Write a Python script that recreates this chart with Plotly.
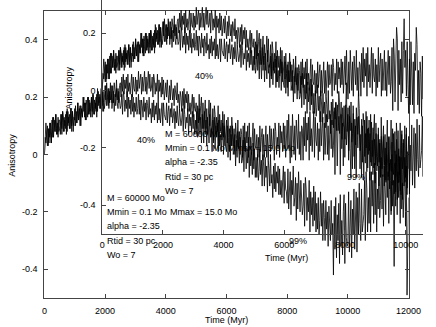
import plotly.graph_objects as go

# sampled every 25 Myr from 0 to 12000 Myr, one row = 500 Myr
T_STEP = 25

# upper curve after the split (~2000 Myr)
aniso_a = [
    0.00, 0.04, 0.11, 0.06, 0.03, 0.09, 0.04, 0.11, 0.07, 0.04, 0.12, 0.06, 0.13, 0.11, 0.08, 0.14, 0.07, 0.11, 0.06, 0.12,
    0.12, 0.07, 0.14, 0.09, 0.15, 0.08, 0.13, 0.10, 0.14, 0.07, 0.16, 0.10, 0.13, 0.09, 0.14, 0.16, 0.08, 0.15, 0.11, 0.10,
    0.16, 0.10, 0.15, 0.11, 0.18, 0.12, 0.15, 0.17, 0.10, 0.16, 0.13, 0.16, 0.20, 0.13, 0.18, 0.12, 0.15, 0.20, 0.14, 0.19,
    0.15, 0.16, 0.20, 0.13, 0.21, 0.19, 0.14, 0.18, 0.15, 0.21, 0.15, 0.22, 0.18, 0.21, 0.16, 0.23, 0.17, 0.22, 0.15, 0.20,
    0.24, 0.19, 0.25, 0.20, 0.17, 0.23, 0.18, 0.25, 0.21, 0.18, 0.24, 0.18, 0.25, 0.23, 0.20, 0.26, 0.19, 0.23, 0.18, 0.24,
    0.25, 0.20, 0.27, 0.22, 0.28, 0.21, 0.26, 0.23, 0.27, 0.20, 0.28, 0.22, 0.25, 0.21, 0.26, 0.28, 0.20, 0.27, 0.23, 0.22,
    0.27, 0.21, 0.26, 0.22, 0.29, 0.23, 0.26, 0.28, 0.21, 0.27, 0.22, 0.25, 0.29, 0.22, 0.27, 0.21, 0.24, 0.29, 0.23, 0.28,
    0.22, 0.23, 0.27, 0.20, 0.28, 0.26, 0.21, 0.25, 0.22, 0.28, 0.19, 0.26, 0.22, 0.25, 0.20, 0.27, 0.21, 0.26, 0.19, 0.24,
    0.25, 0.20, 0.26, 0.21, 0.18, 0.24, 0.19, 0.26, 0.22, 0.19, 0.23, 0.17, 0.24, 0.22, 0.19, 0.25, 0.18, 0.21, 0.16, 0.22,
    0.20, 0.15, 0.22, 0.17, 0.23, 0.16, 0.21, 0.18, 0.22, 0.15, 0.21, 0.15, 0.18, 0.14, 0.19, 0.21, 0.13, 0.20, 0.16, 0.15,
    0.18, 0.09, 0.17, 0.11, 0.21, 0.12, 0.17, 0.20, 0.09, 0.18, 0.09, 0.13, 0.19, 0.09, 0.16, 0.07, 0.12, 0.19, 0.10, 0.18,
    0.08, 0.10, 0.16, 0.05, 0.17, 0.14, 0.07, 0.13, 0.08, 0.17, 0.03, 0.14, 0.08, 0.12, 0.05, 0.15, 0.06, 0.14, 0.03, 0.11,
    0.12, 0.04, 0.13, 0.06, 0.01, 0.10, 0.03, 0.13, 0.07, 0.03, 0.09, 0.00, 0.11, 0.08, 0.03, 0.12, 0.02, 0.08, 0.00, 0.09,
    0.07, -0.01, 0.10, 0.02, 0.11, 0.01, 0.08, 0.04, 0.10, -0.01, 0.11, 0.02, 0.06, 0.00, 0.08, 0.11, -0.02, 0.09, 0.03, 0.02,
    0.07, -0.02, 0.06, -0.01, 0.10, 0.01, 0.06, 0.09, -0.02, 0.07, -0.01, 0.04, 0.10, -0.01, 0.07, -0.02, 0.03, 0.10, 0.01, 0.09,
    0.02, 0.03, 0.09, -0.02, 0.11, 0.08, 0.00, 0.06, 0.02, 0.11, -0.01, 0.10, 0.04, 0.08, 0.01, 0.11, 0.02, 0.10, -0.01, 0.07,
    0.12, 0.02, 0.14, 0.04, -0.03, 0.10, -0.01, 0.14, 0.06, 0.00, 0.10, -0.02, 0.12, 0.08, 0.02, 0.14, 0.00, 0.08, -0.02, 0.10,
    0.09, -0.02, 0.13, 0.03, 0.15, 0.01, 0.11, 0.05, 0.13, -0.02, 0.15, 0.03, 0.09, 0.01, 0.11, 0.15, -0.01, 0.13, 0.05, 0.03,
    0.11, -0.02, 0.09, 0.01, 0.15, 0.03, 0.09, 0.13, -0.02, 0.11, 0.00, 0.06, 0.14, 0.00, 0.10, -0.02, 0.04, 0.14, 0.02, 0.12,
    -0.01, 0.03, 0.15, -0.07, 0.18, 0.12, -0.04, 0.09, 0.22, 0.18, -0.07, 0.14, 0.02, 0.11, -0.04, 0.17, -0.01, 0.14, 0.25, 0.08,
    0.14, -0.02, 0.17, 0.02, -0.08, 0.11, -0.05, 0.17, 0.05, -0.05, 0.10, -0.08, 0.13, 0.07, 0.22, 0.16, -0.05, 0.07, -0.08, 0.10,
    0.06, -0.09, 0.12, -0.03, 0.15, -0.06, 0.09, 0.00, 0.12, -0.09, 0.14, -0.04, 0.05, -0.07, 0.08, 0.14, -0.10, 0.11, -0.01, -0.04,
    0.07, -0.11, 0.04, -0.08, 0.13, -0.05, 0.04, 0.10, -0.11, 0.07, -0.09, 0.00, 0.12, -0.09, 0.06, -0.12, -0.03, 0.12, -0.06, 0.09,
    -0.07, -0.04, 0.08, -0.13, 0.11, 0.05, -0.10, 0.02, -0.07, 0.11, -0.14, 0.07, -0.05, 0.04, -0.11, 0.10, -0.08, 0.07, -0.14, 0.01,
    -0.05,
]

# lower curve, drops hard around 9500 Myr
aniso_b = [
    0.00, 0.06, 0.04, 0.08, 0.10, 0.03, 0.09, 0.06, 0.11, 0.04, 0.10, 0.13, 0.06, 0.12, 0.08, 0.14, 0.09, 0.07, 0.13, 0.08,
    0.09, 0.10, 0.14, 0.07, 0.15, 0.13, 0.08, 0.12, 0.09, 0.15, 0.08, 0.15, 0.11, 0.14, 0.09, 0.16, 0.10, 0.15, 0.08, 0.13,
    0.12, 0.17, 0.11, 0.13, 0.18, 0.12, 0.16, 0.10, 0.17, 0.14, 0.13, 0.20, 0.15, 0.18, 0.12, 0.19, 0.17, 0.13, 0.20, 0.14,
    0.18, 0.13, 0.20, 0.15, 0.21, 0.14, 0.19, 0.16, 0.20, 0.13, 0.23, 0.17, 0.20, 0.16, 0.21, 0.23, 0.15, 0.22, 0.18, 0.16,
    0.18, 0.24, 0.17, 0.21, 0.23, 0.16, 0.22, 0.19, 0.24, 0.16, 0.19, 0.22, 0.15, 0.21, 0.17, 0.23, 0.18, 0.16, 0.22, 0.17,
    0.16, 0.17, 0.21, 0.14, 0.22, 0.20, 0.15, 0.19, 0.16, 0.22, 0.13, 0.20, 0.16, 0.19, 0.14, 0.21, 0.15, 0.20, 0.13, 0.18,
    0.15, 0.20, 0.14, 0.16, 0.21, 0.14, 0.19, 0.12, 0.19, 0.17, 0.13, 0.20, 0.15, 0.18, 0.12, 0.19, 0.17, 0.13, 0.20, 0.14,
    0.16, 0.11, 0.18, 0.13, 0.19, 0.12, 0.17, 0.14, 0.18, 0.11, 0.19, 0.12, 0.16, 0.11, 0.17, 0.18, 0.10, 0.18, 0.14, 0.13,
    0.12, 0.18, 0.11, 0.15, 0.17, 0.10, 0.16, 0.13, 0.18, 0.11, 0.13, 0.16, 0.09, 0.15, 0.11, 0.17, 0.12, 0.10, 0.16, 0.11,
    0.10, 0.12, 0.16, 0.08, 0.17, 0.14, 0.09, 0.13, 0.11, 0.16, 0.07, 0.14, 0.10, 0.13, 0.08, 0.15, 0.09, 0.14, 0.07, 0.12,
    0.07, 0.15, 0.06, 0.08, 0.16, 0.07, 0.13, 0.04, 0.14, 0.10, 0.04, 0.15, 0.07, 0.12, 0.03, 0.13, 0.10, 0.04, 0.14, 0.06,
    0.09, 0.01, 0.12, 0.04, 0.13, 0.02, 0.10, 0.06, 0.11, 0.01, 0.12, 0.03, 0.07, 0.01, 0.09, 0.11, 0.00, 0.10, 0.04, 0.02,
    0.01, 0.10, -0.01, 0.06, 0.09, -0.02, 0.07, 0.03, 0.10, 0.00, 0.02, 0.07, -0.04, 0.05, -0.01, 0.08, 0.01, -0.03, 0.06, -0.01,
    -0.03, -0.02, 0.05, -0.06, 0.06, 0.03, -0.05, 0.02, -0.03, 0.06, -0.08, 0.03, -0.04, 0.01, -0.07, 0.04, -0.05, 0.02, -0.08, -0.01,
    -0.08, 0.00, -0.09, -0.06, 0.02, -0.07, -0.02, -0.11, 0.00, -0.04, -0.11, -0.01, -0.08, -0.04, -0.13, -0.02, -0.05, -0.11, 0.00, -0.10,
    -0.07, -0.15, -0.04, -0.12, -0.03, -0.13, -0.06, -0.10, -0.04, -0.14, -0.05, -0.14, -0.09, -0.15, -0.08, -0.04, -0.17, -0.06, -0.12, -0.13,
    -0.17, -0.05, -0.19, -0.11, -0.06, -0.21, -0.09, -0.14, -0.04, -0.18, -0.15, -0.08, -0.23, -0.10, -0.19, -0.06, -0.17, -0.20, -0.09, -0.18,
    -0.21, -0.18, -0.10, -0.25, -0.08, -0.12, -0.23, -0.15, -0.20, -0.09, -0.27, -0.13, -0.21, -0.15, -0.25, -0.11, -0.23, -0.13, -0.27, -0.17,
    -0.26, -0.15, -0.28, -0.23, -0.13, -0.25, -0.17, -0.30, -0.16, -0.22, -0.30, -0.16, -0.26, -0.20, -0.32, -0.18, -0.22, -0.30, -0.16, -0.28,
    -0.24, -0.42, -0.18, -0.33, -0.15, -0.36, -0.21, -0.30, -0.17, -0.38, -0.14, -0.32, -0.23, -0.35, -0.20, -0.14, -0.38, -0.17, -0.29, -0.32,
    -0.31, -0.13, -0.34, -0.22, -0.16, -0.36, -0.19, -0.28, -0.12, -0.33, -0.22, -0.13, -0.34, -0.15, -0.28, -0.10, -0.24, -0.30, -0.12, -0.27,
    -0.24, -0.21, -0.09, -0.30, -0.06, -0.12, -0.27, -0.15, -0.24, -0.06, -0.27, -0.06, -0.18, -0.09, -0.24, -0.03, -0.21, -0.06, -0.27, -0.12,
    -0.19, -0.04, -0.22, -0.16, -0.01, -0.19, -0.07, -0.25, -0.04, -0.13, -0.21, 0.00, -0.15, -0.06, -0.24, -0.03, -0.09, -0.21, 0.00, -0.18,
    -0.09, -0.39, -0.03, -0.18, 0.00, -0.21, -0.06, -0.15, -0.03, -0.24, -0.01, -0.19, -0.10, -0.22, -0.07, -0.01, -0.25, -0.04, -0.49, -0.19,
    -0.15,
]

x_ticks = [0, 2000, 4000, 6000, 8000, 10000, 12000]
x_ticktext = ["0", "2000", "4000", "6000", "8000", "10000", "12000"]
y_ticks = [-0.4, -0.2, 0, 0.2, 0.4]
y_ticktext = ["-0.4", "-0.2", "0", "0.2", "0.4"]

# curve labels and the run parameters (data coords, left-justified)
curve_labels = [(3000, 0.05, "40%"), (8000, -0.30, "99%")]
param_labels = [
    (2000, -0.15, "M = 60000 Mo"),
    (2000, -0.20, "Mmin = 0.1 Mo"),
    (4080, -0.20, "Mmax = 15.0 Mo"),
    (2000, -0.25, "alpha = -2.35"),
    (2000, -0.30, "Rtid = 30 pc"),
    (2000, -0.35, "Wo = 7"),
]

W, H = 436, 327
FONT = dict(family="Liberation Sans, Arial, sans-serif", size=9, color="black")


def px(x, y):
    return x / W, 1 - y / H


fig = go.Figure()
# same plot drawn twice: full-size frame and a shifted copy on top of it
for xa, ya in [("x", "y"), ("x2", "y2")]:
    for vals in (aniso_a, aniso_b):
        fig.add_trace(go.Scatter(
            x0=0, dx=T_STEP, y=vals, mode="lines", xaxis=xa, yaxis=ya,
            line=dict(color="black", width=0.8), showlegend=False,
            hoverinfo="skip",
        ))

axis_common = dict(
    showgrid=False, zeroline=False, showline=True, linecolor="#444",
    linewidth=1, ticks="inside", ticklen=4, tickcolor="#444",
    tickfont=FONT, tickmode="array",
)

annotations = []
for xr, yr in [("x", "y"), ("x2", "y2")]:
    for x, y, txt in curve_labels + param_labels:
        annotations.append(dict(
            x=x, y=y, xref=xr, yref=yr, text=txt, showarrow=False,
            xanchor="left", yanchor="middle", font=FONT,
        ))

for (x, y), txt, ang in [
    (px(9, 155), "Anisotropy", -90),
    (px(232, 320), "Time (Myr)", 0),
    (px(69, 88), "Anisotropy", -90),
    (px(294, 258), "Time (Myr)", 0),
]:
    annotations.append(dict(
        x=x, y=y, xref="paper", yref="paper", text=txt, showarrow=False,
        textangle=ang, xanchor="center", yanchor="middle", font=FONT,
    ))

fig.update_layout(
    width=W, height=H,
    margin=dict(l=0, r=0, t=0, b=0),
    paper_bgcolor="white", plot_bgcolor="rgba(0,0,0,0)",
    xaxis=dict(**axis_common, domain=[43 / W, 421 / W], range=[0, 12000],
               tickvals=x_ticks, ticktext=x_ticktext, mirror="ticks",
               anchor="y", ticklabelstandoff=4),
    yaxis=dict(**axis_common, domain=[1 - 298 / H, 1 - 11 / H], range=[-0.5, 0.5],
               tickvals=y_ticks, ticktext=y_ticktext, mirror="ticks",
               anchor="x", ticklabelstandoff=4),
    xaxis2=dict(**axis_common, domain=[103 / W, 1], range=[0, (W - 103) / 378 * 12000],
                tickvals=x_ticks, ticktext=x_ticktext, anchor="y2",
                ticklabelstandoff=2),
    yaxis2=dict(**axis_common, domain=[1 - 234 / H, 1],
                range=[-0.5, -0.5 + 234 / 287], tickvals=y_ticks,
                ticktext=y_ticktext, anchor="x2", ticklabelstandoff=4),
    annotations=annotations,
)

fig.write_html("out.html", config={"displayModeBar": False},
               post_script="document.body.style.margin='0';")
